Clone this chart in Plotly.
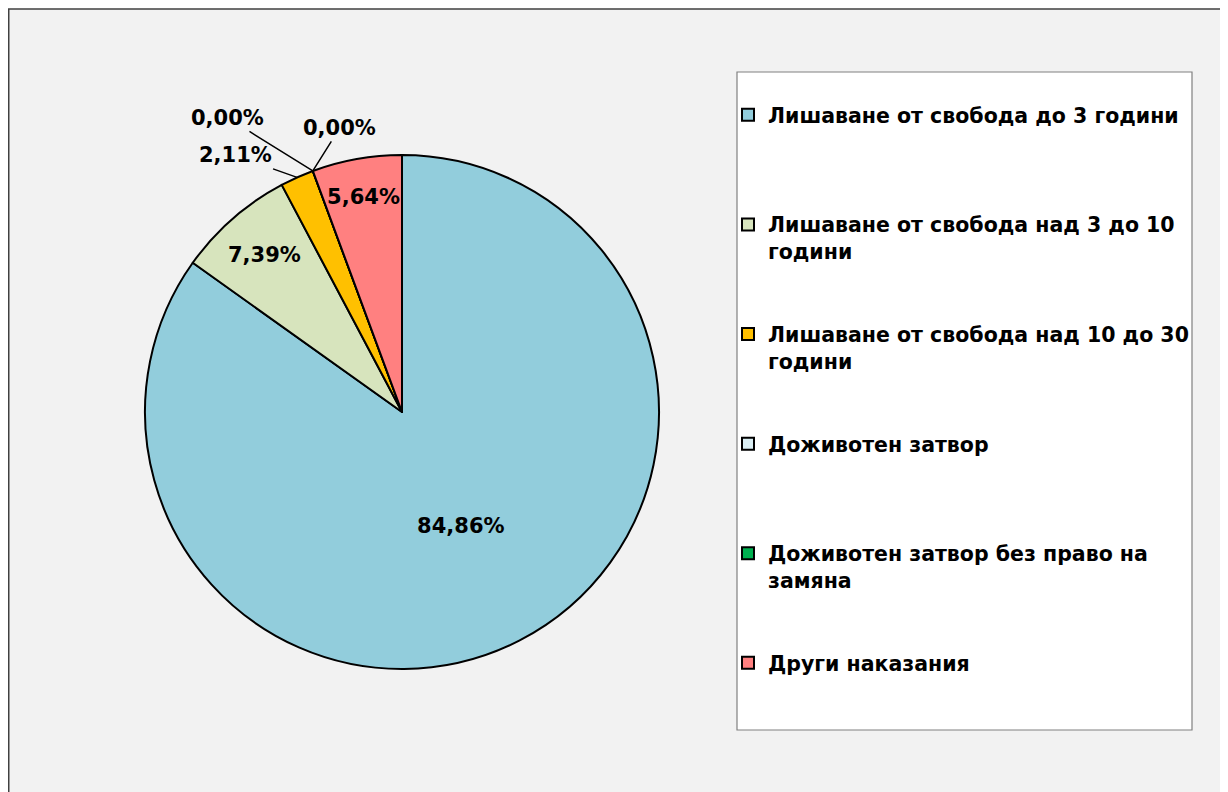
import math
import plotly.graph_objects as go

categories = [
    "Лишаване от свобода до 3 години",
    "Лишаване от свобода над 3 до 10<br>години",
    "Лишаване от свобода над 10 до 30<br>години",
    "Доживотен затвор",
    "Доживотен затвор без право на<br>замяна",
    "Други наказания",
]
values = [84.86, 7.39, 2.11, 0.00, 0.00, 5.64]
colors = ["#92CDDC", "#D7E4BD", "#FFC000", "#DAEEF3", "#00B050", "#FF8080"]
# inside labels drawn by the pie; the small slices get callout labels
text_positions = ["inside", "inside", "none", "none", "none", "inside"]
callout_offsets = {2: (-62, -22), 3: (-85, -53), 4: (27, -43)}

# page is offset by the 8px body margin
OFF = 8
W, H = 1228 - OFF, 792 - OFF
LINES_PER_ENTRY = 4
FONT = "DejaVu Sans"


def pad(label):
    n = label.count("<br>") + 1
    return label + "<br> " * (LINES_PER_ENTRY - n)


legend_labels = [pad(c) for c in categories]
texts = [f"{v:.2f}".replace(".", ",") + "%" for v in values]

# pie geometry (figure px)
cx, cy, r = 402 - OFF, 412 - OFF, 257

fig = go.Figure(
    go.Pie(
        labels=legend_labels,
        values=values,
        text=texts,
        texttemplate="%{text}",
        textposition=text_positions,
        insidetextorientation="horizontal",
        sort=False,
        direction="clockwise",
        rotation=0,
        marker=dict(colors=colors, line=dict(color="#000000", width=2)),
        textfont=dict(family=FONT, size=21, color="#000000", weight="bold"),
        domain=dict(x=[(cx - r) / W, (cx + r) / W], y=[1 - (cy + r) / H, 1 - (cy - r) / H]),
        hoverinfo="label+percent",
    )
)

# callout labels for small slices, anchored at the slice's outer edge
total = sum(values)
annotations = []
cum = 0.0
for i, v in enumerate(values):
    mid = (cum + v / 2) / total
    cum += v
    if i not in callout_offsets:
        continue
    theta = 2 * math.pi * mid
    px = cx + r * math.sin(theta)
    py = cy - r * math.cos(theta)
    ax, ay = callout_offsets[i]
    annotations.append(dict(
        x=px / W, y=1 - py / H, xref="paper", yref="paper",
        text=texts[i], showarrow=True, arrowhead=0, arrowwidth=1.5,
        arrowcolor="#000000", standoff=0, ax=ax, ay=ay,
        font=dict(family=FONT, size=21, color="#000000", weight="bold"),
    ))

fig.update_layout(
    width=W,
    height=H,
    margin=dict(l=0, r=0, t=0, b=0),
    paper_bgcolor="#FFFFFF",
    font=dict(family=FONT, color="#000000"),
    showlegend=True,
    legend=dict(
        x=(728 - OFF) / W,
        y=1 - (95 - OFF) / H,
        xanchor="left",
        yanchor="top",
        bgcolor="rgba(0,0,0,0)",
        borderwidth=0,
        valign="top",
        font=dict(family=FONT, size=20.5, color="#000000", weight="bold"),
        traceorder="normal",
    ),
    annotations=annotations,
    shapes=[
        dict(type="rect", xref="paper", yref="paper", layer="below",
             x0=0.75 / W, x1=1.02, y0=-0.02, y1=1 - (9 - OFF) / H,
             fillcolor="#F2F2F2", line=dict(color="#404040", width=1.5)),
        dict(type="rect", xref="paper", yref="paper", layer="below",
             x0=(737 - OFF) / W, x1=(1192 - OFF) / W,
             y0=1 - (730 - OFF) / H, y1=1 - (72 - OFF) / H,
             fillcolor="#FFFFFF", line=dict(color="#808080", width=1.2)),
    ],
)

fig.write_html("out.html")
